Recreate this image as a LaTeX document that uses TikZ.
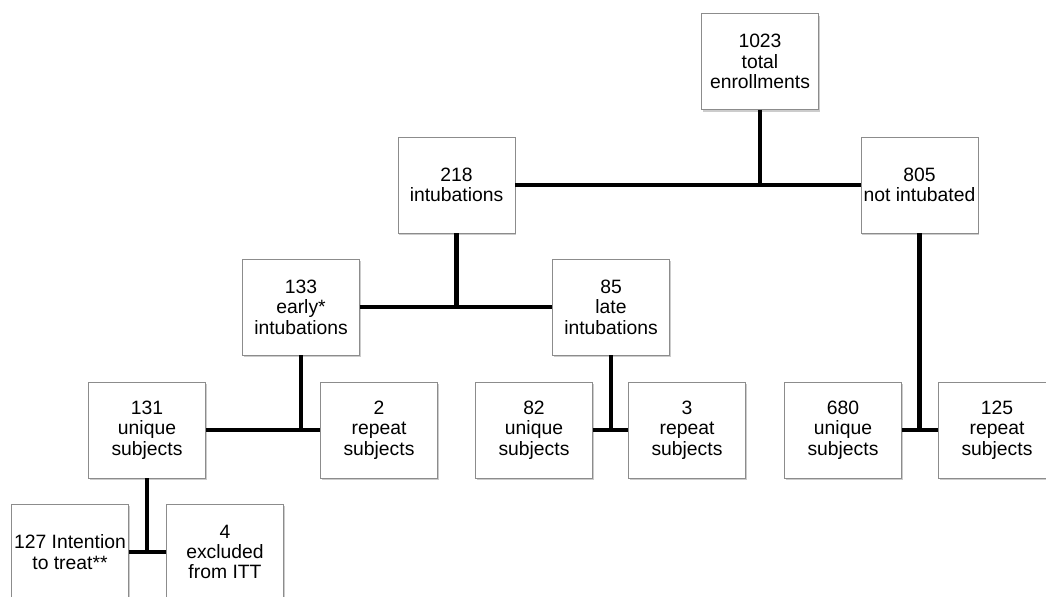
\documentclass[tikz,border=0pt]{standalone}
\usepackage{fontspec}
\setmainfont{Liberation Sans}
\usetikzlibrary{shadows}
\tikzset{
    box/.style={draw=black!45, fill=white, line width=0.5pt,
        minimum width=2.34cm, minimum height=1.92cm, inner sep=0pt,
        align=center, font=\fontsize{11}{11.6}\selectfont,
        drop shadow={shadow xshift=0.6pt, shadow yshift=-1.2pt, fill=black!40}},
    bus/.style={line width=2.8pt}, % the thick black joins
}

\begin{document}
\begin{tikzpicture}[x=0.02cm, y=-0.02cm]
    \useasboundingbox (0,0) rectangle (1046,597);
    % level 0 and 1
    \node[box] (total)  at (760,61.5) {1023\\total\\enrollments};
    \node[box] (intub)  at (456.5,185) {218\\intubations};
    \node[box] (notint) at (919.5,185) {805\\not intubated};
    % level 2
    \node[box] (early) at (301,307) {133\\early*\\intubations};
    \node[box] (late)  at (611,307) {85\\late\\intubations};
    % level 3
    \node[box] (uniqA) at (147,430) {131\\unique\\subjects};
    \node[box] (repA)  at (379,430) {2\\repeat\\subjects};
    \node[box] (uniqB) at (534,430) {82\\unique\\subjects};
    \node[box] (repB)  at (687,430) {3\\repeat\\subjects};
    \node[box] (uniqC) at (843,430) {680\\unique\\subjects};
    \node[box] (repC)  at (997,430) {125\\repeat\\subjects};
    % level 4
    \node[box] (itt)   at (70,552)  {127 Intention\\to treat**};
    \node[box] (excl)  at (225,552) {4\\excluded\\from ITT};

    \draw[bus] (intub) -- (notint);
    \draw[bus] (total) -- (total |- intub);
    \draw[bus] (early) -- (late);
    \draw[bus] (intub) -- (intub |- early);
    \draw[bus] (uniqA) -- (repA);
    \draw[bus] (early) -- (early |- repA);
    \draw[bus] (uniqB) -- (repB);
    \draw[bus] (late) -- (late |- repB);
    \draw[bus] (uniqC) -- (repC);
    \draw[bus] (notint) -- (notint |- repC);
    \draw[bus] (itt) -- (excl);
    \draw[bus] (uniqA) -- (uniqA |- excl);
\end{tikzpicture}
\end{document}
